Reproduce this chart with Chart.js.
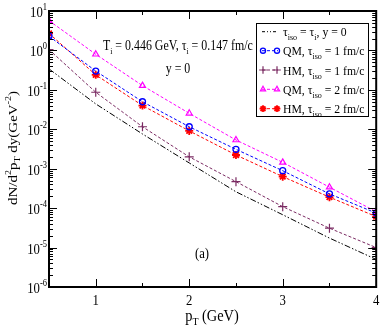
<!DOCTYPE html>
<html>
<head>
<meta charset="utf-8">
<script src="https://cdn.jsdelivr.net/npm/chart.js@4.4.0/dist/chart.umd.min.js"></script>
<style>
html, body { margin: 0; padding: 0; background: #fff; }
canvas { display: block; }
</style>
</head>
<body>
<canvas id="spectra" width="382" height="327"></canvas>
<script>
// pT grid (GeV) and spectra
const pT = [0.5, 1, 1.5, 2, 2.5, 3, 3.5, 4];
const isoEq = [0.34, 0.044, 0.0076, 0.0014, 2.6e-4, 6.8e-5, 1.74e-5, 5.0e-6];
const qm1 = [2.3, 0.30, 0.050, 0.0116, 0.0031, 8.9e-4, 2.3e-4, 7.5e-5];
const hm1 = [1.05, 0.087, 0.0116, 0.0020, 4.7e-4, 1.09e-4, 3.1e-5, 1.0e-5];
const qm2 = [5.7, 0.80, 0.128, 0.0254, 0.00535, 0.00145, 3.4e-4, 8.1e-5];
const hm2 = [2.7, 0.24, 0.040, 0.0091, 0.00223, 6.3e-4, 1.9e-4, 6.1e-5];

// axis ticks
const xTicks = [1, 2, 3, 4];
const xTickLabels = ['1', '2', '3', '4'];
const xMinor = [1.5, 2.5, 3.5];
const yExponents = [1, 0, -1, -2, -3, -4, -5, -6];

const SERIF = '"Liberation Serif", "Times New Roman", serif';

function series(values) {
    return values.map((v, i) => ({ x: pT[i], y: v }));
}

// draw text made of pieces: [text, size, baseline shift]
function richText(ctx, parts, x, y, align, sx, sy) {
    let w = 0;
    parts.forEach(p => {
        ctx.font = p[1] + 'px ' + SERIF;
        w += ctx.measureText(p[0]).width;
    });
    ctx.save();
    ctx.translate(x, y);
    ctx.scale(sx || 1, sy || 1);
    let cx = align === 'center' ? -w / 2 : align === 'right' ? -w : 0;
    ctx.textAlign = 'left';
    ctx.textBaseline = 'alphabetic';
    parts.forEach(p => {
        ctx.font = p[1] + 'px ' + SERIF;
        ctx.fillText(p[0], cx, p[2]);
        cx += ctx.measureText(p[0]).width;
    });
    ctx.restore();
}

const datasets = [
    {
        data: series(isoEq),
        borderColor: '#000',
        borderWidth: 1,
        borderDash: [6, 2, 1.5, 2, 1.5, 2],
        pointRadius: 0
    },
    {
        data: series(qm1),
        borderColor: '#0000ff',
        borderWidth: 1,
        borderDash: [3, 2],
        pointStyle: 'circle',
        pointRadius: 3,
        pointBorderWidth: 1.3,
        pointBorderColor: '#0000ff',
        pointBackgroundColor: 'rgba(0,0,0,0)'
    },
    {
        data: series(hm1),
        borderColor: '#7a2a62',
        borderWidth: 1,
        borderDash: [3, 2],
        pointStyle: 'cross',
        pointRadius: 4.5,
        pointBorderWidth: 1.2,
        pointBorderColor: '#7a2a62',
        pointBackgroundColor: 'rgba(0,0,0,0)'
    },
    {
        data: series(qm2),
        borderColor: '#ff00ff',
        borderWidth: 1,
        borderDash: [3, 2],
        pointStyle: 'triangle',
        pointRadius: 3.5,
        pointBorderWidth: 1.2,
        pointBorderColor: '#ff00ff',
        pointBackgroundColor: 'rgba(0,0,0,0)'
    },
    {
        data: series(hm2),
        borderColor: '#ff0000',
        borderWidth: 1,
        borderDash: [3, 2],
        pointStyle: 'star',
        pointRadius: 4,
        pointBorderWidth: 1.8,
        pointBorderColor: '#ff0000',
        pointBackgroundColor: '#ff0000'
    }
];

// legend rows: text pieces for each dataset
const legendRows = [
    [['\u03c4', 13, 0], ['iso', 9, 4], [' = \u03c4', 13, 0], ['i', 9, 4], [', y = 0', 13, 0]],
    [['QM, \u03c4', 13, 0], ['iso', 9, 4], [' = 1 fm/c', 13, 0]],
    [['HM, \u03c4', 13, 0], ['iso', 9, 4], [' = 1 fm/c', 13, 0]],
    [['QM, \u03c4', 13, 0], ['iso', 9, 4], [' = 2 fm/c', 13, 0]],
    [['HM, \u03c4', 13, 0], ['iso', 9, 4], [' = 2 fm/c', 13, 0]]
];

const framePlugin = {
    id: 'frame',
    afterDraw(chart) {
        const { ctx, chartArea: a, scales: { x, y } } = chart;
        ctx.save();
        ctx.strokeStyle = '#000';
        ctx.fillStyle = '#000';

        // inward ticks on all four sides
        ctx.lineWidth = 1;
        ctx.beginPath();
        const xt = (v, len) => {
            const px = Math.round(x.getPixelForValue(v)) + 0.5;
            ctx.moveTo(px, a.bottom); ctx.lineTo(px, a.bottom - len);
            ctx.moveTo(px, a.top); ctx.lineTo(px, a.top + len);
        };
        const yt = (v, len) => {
            const py = Math.round(y.getPixelForValue(v)) + 0.5;
            ctx.moveTo(a.left, py); ctx.lineTo(a.left + len, py);
            ctx.moveTo(a.right, py); ctx.lineTo(a.right - len, py);
        };
        xTicks.forEach(v => xt(v, 8));
        xMinor.forEach(v => xt(v, 4));
        yExponents.forEach(e => {
            yt(Math.pow(10, e), 8);
            if (e < 1) {
                for (let m = 2; m <= 9; m++) yt(m * Math.pow(10, e), 4);
            }
        });
        ctx.stroke();

        // frame
        ctx.lineWidth = 2;
        ctx.strokeRect(a.left, a.top, a.right - a.left, a.bottom - a.top);

        // tick labels
        xTicks.forEach((v, i) => {
            richText(ctx, [[xTickLabels[i], 15, 0]], x.getPixelForValue(v), a.bottom + 18, 'center', 0.85);
        });
        yExponents.forEach(e => {
            const py = y.getPixelForValue(Math.pow(10, e));
            richText(ctx, [['10', 15, 0], [String(e), 10, -7]], a.left - 2, py + 6, 'right', 0.85);
        });

        // axis titles
        richText(ctx, [['p', 16, 0], ['T', 11, 4], [' (GeV)', 16, 0]], 212, 321, 'center', 0.9);
        ctx.save();
        ctx.translate(17, 148);
        ctx.rotate(-Math.PI / 2);
        richText(ctx, [['dN/d', 15, 0], ['2', 10, -7], ['p', 15, 0], ['T', 10, 4], [' dy(GeV', 15, 0], ['-2', 10, -7], [')', 15, 0]],
            0, 0, 'center', 1, 0.85);
        ctx.restore();

        // annotations
        richText(ctx, [['T', 14, 0], ['i', 9, 4], [' = 0.446 GeV, \u03c4', 14, 0], ['i', 9, 4], [' = 0.147 fm/c', 14, 0]],
            103, 50, 'left', 0.85);
        richText(ctx, [['y = 0', 14, 0]], 178, 73, 'center', 0.85);
        richText(ctx, [['(a)', 15, 0]], 202, 258, 'center', 0.85);

        // legend box
        ctx.lineWidth = 1;
        ctx.strokeRect(256.5, 23.5, 112, 93);
        const rowY = [31.7, 50.7, 70, 89.3, 108.7];
        datasets.forEach((ds, i) => {
            const ly = rowY[i];
            ctx.save();
            ctx.strokeStyle = ds.borderColor;
            ctx.lineWidth = 1;
            ctx.setLineDash(i === 0 ? [3, 2, 1, 2, 1, 2] : [3, 2]);
            ctx.beginPath();
            ctx.moveTo(262, ly);
            ctx.lineTo(278, ly);
            ctx.stroke();
            ctx.setLineDash([]);
            if (ds.pointRadius > 0) {
                ctx.lineWidth = ds.pointBorderWidth;
                ctx.fillStyle = ds.pointBackgroundColor;
                [263, 277].forEach(px => {
                    Chart.helpers.drawPoint(ctx, {
                        pointStyle: ds.pointStyle,
                        radius: ds.pointRadius * 0.85,
                        rotation: 0,
                        borderWidth: ds.pointBorderWidth
                    }, px, ly);
                });
            }
            ctx.restore();
            richText(ctx, legendRows[i], 283, ly + 4.5, 'left', 0.9);
        });
        ctx.restore();
    }
};

new Chart(document.getElementById('spectra').getContext('2d'), {
    type: 'line',
    data: { datasets: datasets },
    options: {
        responsive: false,
        animation: false,
        layout: { padding: { left: 49, top: 11, right: 5, bottom: 40 } },
        elements: { line: { tension: 0 } },
        scales: {
            x: { type: 'linear', min: 0.5, max: 4, display: false },
            y: { type: 'logarithmic', min: 1e-6, max: 10, display: false }
        },
        plugins: {
            legend: { display: false },
            tooltip: { enabled: false }
        }
    },
    plugins: [framePlugin]
});
</script>
</body>
</html>
